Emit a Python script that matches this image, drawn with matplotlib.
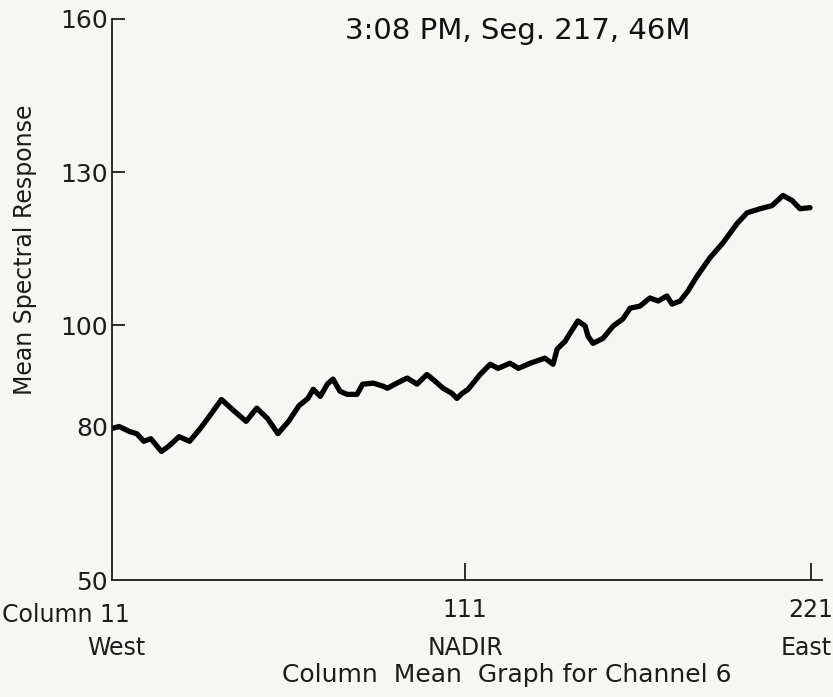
import numpy as np
import matplotlib
matplotlib.use("Agg")
import matplotlib.pyplot as plt

# column numbers and mean response
columns = [11, 13, 16, 18, 20, 22, 25, 27, 30, 33, 36, 39, 42, 45, 49, 52, 55, 58, 61,
           64, 66.5, 68, 70, 72, 73.6, 75.6, 77.6, 80.4, 82, 85, 87.8, 89, 91.7, 94.6,
           97.4, 100.2, 102.5, 104.8, 107.3, 108.7, 110.2,
           112, 115.8, 119, 121.5, 125.3, 128, 131.7, 136.4, 139, 140.3, 142.8, 144.4,
           146.9, 149.2, 150.1, 151.7, 154.9, 158.1, 161.2, 163.5, 166.6, 169.8, 172.4,
           175.2, 176.8, 179.4, 181.9, 184.8, 188.9, 193, 197.5, 200.7, 204.8, 208.6,
           212.1, 215, 217.5, 220.7]
response = [79.7, 80.1, 79.1, 78.7, 77.2, 77.7, 75.2, 76.2, 78.1, 77.2, 79.7, 82.5, 85.4,
            83.5, 81.1, 83.7, 81.7, 78.7, 81.1, 84.2, 85.6, 87.4, 86.0, 88.4, 89.4, 87.0,
            86.4, 86.4, 88.4, 88.6, 88.0, 87.6, 88.6, 89.6, 88.4, 90.3, 89.0, 87.6, 86.6,
            85.6, 86.6,
            87.4, 90.3, 92.3, 91.5, 92.5, 91.5, 92.5, 93.5, 92.3, 95.3, 96.8, 98.4,
            100.8, 99.8, 97.8, 96.4, 97.4, 99.8, 101.2, 103.3, 103.7, 105.3, 104.7,
            105.7, 104.1, 104.7, 106.7, 109.6, 113.2, 116.1, 119.9, 122.0, 122.8, 123.4,
            125.4, 124.4, 122.8, 123.0]

y_ticks = [50, 80, 100, 130, 160]
x_ticks = [11, 111, 221]
x_tick_labels = ["", "111", "221"]
x_sides = ["West", "NADIR", "East"]

bg = "#f6f6f3"
ink = "#1c1c1c"


# the original axis is drawn by hand: west half and east half have different spacing
def fwd(x):
    x = np.asarray(x, dtype=float)
    return np.where(x < 111, (x - 11) * 3.53, 353 + (x - 111) * 3.145)


def inv(p):
    p = np.asarray(p, dtype=float)
    return np.where(p < 353, 11 + p / 3.53, 111 + (p - 353) / 3.145)


fig = plt.figure(figsize=(8.33, 6.97), dpi=100, facecolor=bg)
ax = fig.add_axes([112 / 833, 117 / 697, 710 / 833, 561 / 697])
ax.set_facecolor(bg)
ax.set_xscale("function", functions=(fwd, inv))

ax.plot(columns, response, color="black", lw=3.8, solid_joinstyle="round",
        solid_capstyle="round")

ax.set_xlim(11, 224.5)
ax.set_ylim(50, 160)

for s in ["top", "right"]:
    ax.spines[s].set_visible(False)
for s in ["left", "bottom"]:
    ax.spines[s].set_linewidth(1.3)
    ax.spines[s].set_color(ink)

ax.set_yticks(y_ticks)
ax.set_yticklabels([str(v) for v in y_ticks], fontsize=18, color=ink)
ax.tick_params(axis="y", direction="in", length=9, width=1.3, pad=3, color=ink)
ax.yaxis.get_major_ticks()[0].tick1line.set_visible(False)

ax.set_xticks(x_ticks)
ax.set_xticklabels(x_tick_labels, fontsize=17, color=ink)
ax.tick_params(axis="x", direction="in", length=12, width=1.3, pad=13, color=ink)
ax.xaxis.get_major_ticks()[0].tick1line.set_visible(False)
ax.xaxis.set_minor_locator(matplotlib.ticker.NullLocator())

fig.text(2 / 833, 1 - 622 / 697, "Column 11", ha="left", va="baseline",
         fontsize=17, color=ink)
for lab, xpx in zip(x_sides, [116, 465, 806]):
    fig.text(xpx / 833, 1 - 655 / 697, lab, ha="center", va="baseline", fontsize=17,
             color=ink)

fig.text(507 / 833, 1 - 682 / 697, "Column  Mean  Graph for Channel 6", ha="center",
         va="baseline", fontsize=18, color=ink)
fig.text(25 / 833, 1 - 250 / 697, "Mean Spectral Response", rotation=90, ha="center",
         va="center", fontsize=17, color=ink)
fig.text(518 / 833, 1 - 31 / 697, "3:08 PM, Seg. 217, 46M", ha="center", va="center",
         fontsize=21, color="#111111")

fig.savefig("out.png", dpi=100, facecolor=bg)
